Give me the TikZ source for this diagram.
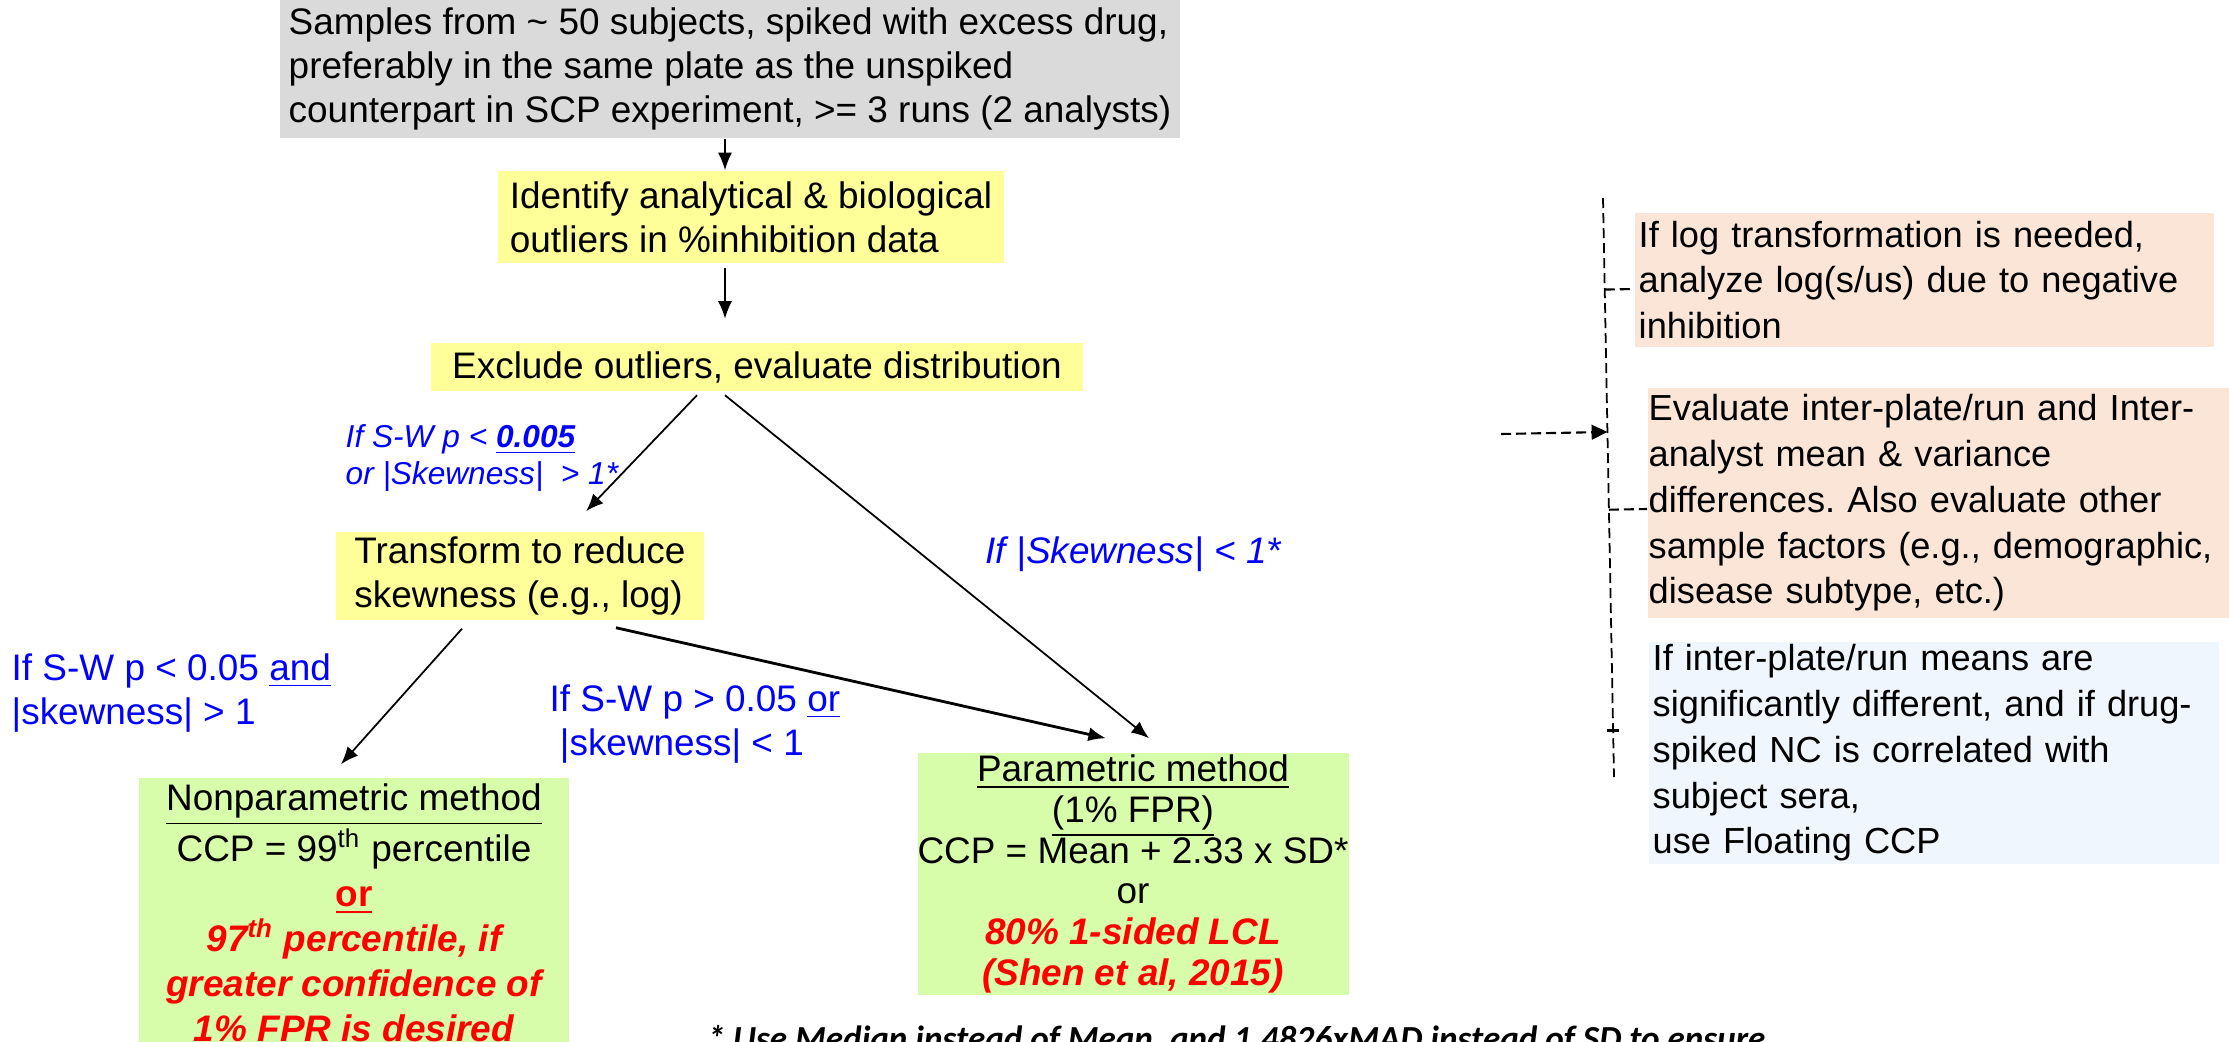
\documentclass[tikz,border=0pt]{standalone}
\usepackage{fontspec}
\setmainfont{Liberation Sans}
\newfontfamily\notefont{Carlito}
\usetikzlibrary{arrows.meta,calc}
\definecolor{boxgray}{RGB}{218,218,218}
\definecolor{stepyellow}{RGB}{255,255,153}
\definecolor{methodgreen}{RGB}{215,253,170}
\definecolor{notepeach}{RGB}{251,229,214}
\definecolor{noteblue}{RGB}{239,246,254}
\definecolor{condblue}{RGB}{0,0,255}
\definecolor{ccpred}{RGB}{255,0,0}
\newcommand\redbi[1]{{\color{ccpred}\bfseries\itshape #1}}
\frenchspacing
\tikzset{
  txt/.style={font=\fontsize{10.5}{12.5}\selectfont, inner sep=0pt},
  graybox/.style={txt, fill=boxgray, align=left},
  yellowbox/.style={txt, fill=stepyellow, align=left},
  greenbox/.style={txt, fill=methodgreen, align=center},
  notebox/.style={txt, font=\fontsize{10.3}{13}\selectfont, anchor=west, align=left, inner xsep=0.04cm},
  cond/.style={txt, text=condblue, align=left, anchor=west},
  arr/.style={-{Latex[length=5pt,width=4pt]}, line width=0.5pt},
  dashline/.style={dash pattern=on 0.1cm off 0.05cm, line width=0.6pt},
  rail/.style={dash pattern=on 0.1cm off 0.05cm, line width=0.5pt}
}
\begin{document}
\begin{tikzpicture}[x=0.01cm, y=-0.01cm]
    \useasboundingbox (0,0) rectangle (2229,1042);
    \node [graybox, minimum width=8.99cm, minimum height=1.38cm] (samples) at (730,69) {Samples from \textasciitilde{} 50 subjects, spiked with excess drug,\\preferably in the same plate as the unspiked\\counterpart in SCP experiment, >= 3 runs (2 analysts)};
    \node [yellowbox, minimum width=5.06cm, minimum height=0.92cm] (identify) at (751,217) {Identify analytical \& biological\\outliers in \%inhibition data};
    \node [yellowbox, minimum width=6.52cm, minimum height=0.47cm] (exclude) at (757,367) {Exclude outliers, evaluate distribution};
    \node [yellowbox, minimum width=3.68cm, minimum height=0.88cm] (transform) at (520,576) {Transform to reduce\\skewness (e.g., log)};
    \node [greenbox, font=\fontsize{10.5}{12.8}\selectfont, minimum width=4.3cm, minimum height=2.7cm] (nonpar) at (354,913) {\underline{Nonparametric method}\\CCP = 99\textsuperscript{th} percentile\\{\color{ccpred}\bfseries\underline{or}}\\\redbi{97\textsuperscript{th} percentile, if}\\\redbi{greater confidence of}\\\redbi{1\% FPR is desired}};
    \node [greenbox, font=\fontsize{10.5}{11.6}\selectfont, minimum width=4.2cm, minimum height=2.42cm] (param) at (1133,874) {\underline{Parametric method}\\\underline{(1\% FPR)}\\CCP = Mean + 2.33 x SD*\\or\\\redbi{80\% 1-sided LCL}\\\redbi{(Shen et al, 2015)}};

    \node [cond, font=\fontsize{9}{10.5}\selectfont\itshape] (lblstrong) at (345,458) {If S-W p < \underline{\textbf{0.005}}\\or |Skewness| \ > 1*};
    \node [cond, font=\fontsize{10.5}{12.5}\selectfont\itshape] (lblsym) at (985,554) {If |Skewness| < 1*};
    \node [cond] (lblnonpar) at (11,693) {If S-W p < 0.05 \underline{and}\\|skewness| > 1};
    \node [cond] (lblpar) at (549,724) {If S-W p > 0.05 \underline{or}\\\ |skewness| < 1};

    \draw [arr] ($(samples.south)+(-5,0)$) -- ($(identify.north)+(-26,0)$);
    \draw [arr] ($(identify.south)+(-26,4)$) -- ($(exclude.north)+(-32,-24)$);
    \draw [arr] ($(exclude.south)+(-60,4)$) -- ($(transform.north)+(66,-20)$);
    \draw [arr] ($(exclude.south)+(-32,4)$) -- ($(param.north)+(16,-14)$);
    \draw [arr] ($(transform.south)+(-58,8)$) -- ($(nonpar.north)+(-13,-13)$);
    \draw [arr, line width=0.8pt] ($(transform.south)+(96,7)$) -- ($(param.north)+(-27,-14)$);

    \node [notebox, fill=notepeach, minimum width=5.79cm, minimum height=1.34cm, text width=5.71cm] (logbox) at (1634,280) {If log transformation is needed,\\analyze log(s/us) due to negative\\inhibition};
    \node [notebox, fill=notepeach, inner xsep=0.01cm, minimum height=2.3cm, text width=5.85cm] (evalbox) at (1647,503) {Evaluate inter-plate/run and Inter-\\analyst mean \& variance\\differences. Also evaluate other\\sample factors (e.g., demographic,\\disease subtype, etc.)};
    \node [notebox, fill=noteblue, inner xsep=0.04cm, minimum width=5.7cm, minimum height=2.21cm, text width=5.62cm] (floatbox) at (1648,753) {If inter-plate/run means are\\significantly different, and if drug-\\spiked NC is correlated with\\subject sera,\\use Floating CCP};

    \coordinate (railtop) at (1603,198);
    \coordinate (railbot) at (1614,777);
    \coordinate (evalsrc) at (1501,434);
    \coordinate (logstub) at ([yshift=-0.09cm]logbox.west);
    \coordinate (evalstub) at ([yshift=-0.06cm]evalbox.west);
    \coordinate (floatstub) at ([yshift=0.23cm]floatbox.west);
    \draw [rail] (railtop) -- (railbot);
    \draw [dashline] ($(railtop)!(logstub)!(railbot)$) -- (logstub);
    \draw [dashline] ($(railtop)!(evalstub)!(railbot)$) -- (evalstub);
    \draw [dashline, -{Triangle[length=4.5pt,width=4.2pt]}] (evalsrc) -- ($(railtop)!(evalsrc)!(railbot)$);
    \coordinate (floattick) at ($(railtop)!(floatstub)!(railbot)$);
    \draw [line width=0.8pt] ($(floattick)+(-6,0)$) -- ($(floattick)+(6,0)$);

    \node [anchor=base west, inner sep=0pt, font=\notefont\bfseries\itshape\fontsize{10}{12}\selectfont] (footnote) at (707,1050) {* Use Median instead of Mean, and 1.4826xMAD instead of SD to ensure};
\end{tikzpicture}
\end{document}
